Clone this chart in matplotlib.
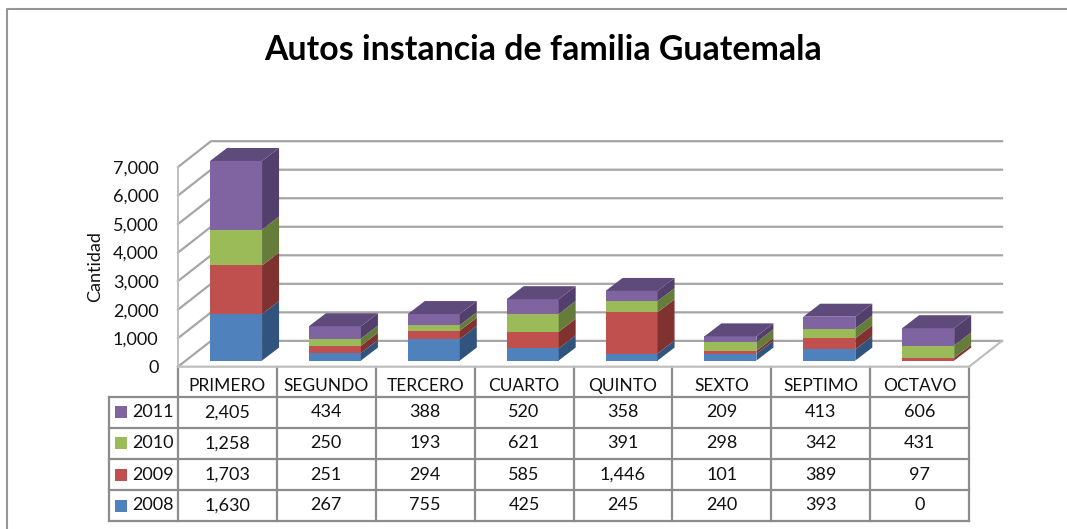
import matplotlib
matplotlib.use('Agg')
import matplotlib.pyplot as plt
from matplotlib.patches import Polygon, Rectangle

plt.rcParams['font.family'] = ['Lato', 'DejaVu Sans']

categories = ['PRIMERO', 'SEGUNDO', 'TERCERO', 'CUARTO', 'QUINTO', 'SEXTO', 'SEPTIMO', 'OCTAVO']
years = ['2008', '2009', '2010', '2011']
v2008 = [1630, 267, 755, 425, 245, 240, 393, 0]
v2009 = [1703, 251, 294, 585, 1446, 101, 389, 97]
v2010 = [1258, 250, 193, 621, 391, 298, 342, 431]
v2011 = [2405, 434, 388, 520, 358, 209, 413, 606]
series = [v2008, v2009, v2010, v2011]
yticks = [0, 1000, 2000, 3000, 4000, 5000, 6000, 7000]

front = ['#4F81BD', '#C0504D', '#9BBB59', '#8064A2']
side = ['#31547F', '#7F3230', '#667C3A', '#523F6C']
top = ['#3E6594', '#963F3C', '#7A9446', '#5F4A7C']
grey = '#A6A6A6'

W, H = 1067, 529
fig = plt.figure(figsize=(W / 100, H / 100), dpi=100)

# whole figure in pixels, for frame and table
bg = fig.add_axes([0, 0, 1, 1])
bg.set_xlim(0, W)
bg.set_ylim(H, 0)
bg.axis('off')

# front plane of the 3d box
left, right, bottom, upper = 178, 969, 366.7, 167
ax = fig.add_axes([left / W, 1 - bottom / H, (right - left) / W, (bottom - upper) / H])
ax.set_xlim(0, 8)
ax.set_ylim(0, 7000)
ax.patch.set_alpha(0)
for s in ax.spines.values():
    s.set_visible(False)
ax.set_xticks([])
ax.set_yticks(yticks)
ax.set_yticklabels([f'{t:,}' for t in yticks], fontsize=13, color='#111111')
ax.tick_params(axis='y', length=0, pad=14)
ax.set_ylabel('Cantidad', fontsize=13, labelpad=7, color='#111111')

wall_dx, wall_dy = 0.334, 905
for t in yticks:
    ax.plot([0, wall_dx, 8 + wall_dx], [t, t + wall_dy, t + wall_dy], color=grey, lw=1.6, clip_on=False, zorder=1)
ax.plot([0, 0], [0, 7000], color='#BFBFBF', lw=1.4, clip_on=False, zorder=1)
ax.plot([0, 8, 8 + wall_dx], [0, 0, wall_dy], color='#BFBFBF', lw=1.6, clip_on=False, zorder=1)

bar_w, bar_dx, bar_dy = 0.526, 0.172, 456
base = 215
for i in range(len(categories)):
    x0 = i + 0.324
    x1 = x0 + bar_w
    y = base
    for k, vals in enumerate(series):
        v = vals[i]
        if v == 0:
            continue
        ax.add_patch(Rectangle((x0, y), bar_w, v, fc=front[k], ec='none', zorder=3, clip_on=False))
        ax.add_patch(Polygon([(x1, y), (x1 + bar_dx, y + bar_dy), (x1 + bar_dx, y + v + bar_dy), (x1, y + v)],
                             fc=side[k], ec='none', zorder=3, clip_on=False))
        y += v
    ax.add_patch(Polygon([(x0, y), (x0 + bar_dx, y + bar_dy), (x1 + bar_dx, y + bar_dy), (x1, y)],
                         fc=top[3], ec='none', zorder=3, clip_on=False))

# title and outer frame (only left and top edges are in the picture)
bg.text(543, 50, 'Autos instancia de familia Guatemala', fontsize=24.4, fontweight='bold',
        ha='center', va='center', color='black')
bg.plot([6.5, 6.5, W], [H, 9, 9], color='#969696', lw=1.5)

# data table under the chart
col_w = (right - left) / 8
row_y = [396.7, 427.7, 459, 490, 521]
tbl = '#8C8C8C'
for i in range(9):
    x = left + i * col_w
    bg.plot([x, x], [bottom, row_y[-1]], color=tbl, lw=1.6)
for y in row_y:
    bg.plot([109, right], [y, y], color=tbl, lw=1.6)
bg.plot([109, 109], [row_y[0], row_y[-1]], color=tbl, lw=1.6)

for i, c in enumerate(categories):
    bg.text(left + (i + 0.5) * col_w, 386, c, fontsize=12.5, ha='center', va='center', color='#111111')
for r, k in enumerate([3, 2, 1, 0]):
    cy = (row_y[r] + row_y[r + 1]) / 2
    bg.add_patch(Rectangle((115, cy - 6), 12, 12, fc=front[k], ec='none'))
    bg.text(132, cy, years[k], fontsize=13, ha='left', va='center', color='#111111')
    for i, v in enumerate(series[k]):
        bg.text(left + (i + 0.5) * col_w, cy, f'{v:,}', fontsize=13, ha='center', va='center', color='#111111')

fig.savefig('out.png', dpi=100)
